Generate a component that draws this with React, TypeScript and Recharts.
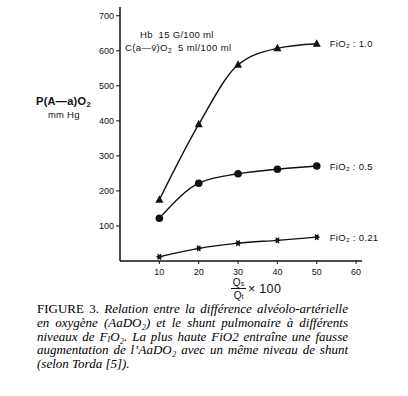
import React from 'react';
import { LineChart, Line, XAxis, YAxis } from 'recharts';

const shunt = [10, 20, 30, 40, 50];
const fio2_100 = [175, 390, 560, 607, 620];
const fio2_50 = [122, 222, 249, 262, 271];
const fio2_21 = [12, 36, 51, 59, 68];
const xTicks = [10, 20, 30, 40, 50, 60];
const yTicks = [100, 200, 300, 400, 500, 600, 700];
const seriesLabels = ['FiO₂ : 1.0', 'FiO₂ : 0.5', 'FiO₂ : 0.21'];

const data = shunt.map((s, i) => ({ s, a: fio2_100[i], b: fio2_50[i], c: fio2_21[i] }));

const INK = '#111';
const SANS = '"Liberation Sans", Arial, sans-serif';
const SERIF2 = '"Liberation Serif", "Times New Roman", serif';

const Tri = (p: any) => {
  const { cx, cy } = p;
  if (cx == null || cy == null) return <g />;
  return <polygon points={`${cx},${cy - 4.5} ${cx - 4},${cy + 3} ${cx + 4},${cy + 3}`} fill={INK} />;
};
const Dot = (p: any) => {
  const { cx, cy } = p;
  if (cx == null || cy == null) return <g />;
  return <circle cx={cx} cy={cy} r={3.8} fill={INK} />;
};
const Star = (p: any) => {
  const { cx, cy } = p;
  if (cx == null || cy == null) return <g />;
  return (
    <g stroke={INK} strokeWidth={1.2}>
      <line x1={cx - 3} y1={cy} x2={cx + 3} y2={cy} />
      <line x1={cx - 1.6} y1={cy - 2.8} x2={cx + 1.6} y2={cy + 2.8} />
      <line x1={cx + 1.6} y1={cy - 2.8} x2={cx - 1.6} y2={cy + 2.8} />
      <circle cx={cx} cy={cy} r={1.5} fill={INK} />
    </g>
  );
};

const endLabel = (text: string) => (p: any) => {
  if (p.index !== shunt.length - 1) return <g />;
  return (
    <text x={p.x + 13} y={p.y} dy={3.5} fontSize={9.5} letterSpacing={0.3} fontFamily={SANS} fill={INK}>
      {text}
    </text>
  );
};

const abs = (s: React.CSSProperties): React.CSSProperties => ({ position: 'absolute', whiteSpace: 'nowrap', ...s });

const capLine: React.CSSProperties = {
  height: 13.8,
  lineHeight: '13.8px',
  textAlign: 'justify',
  textAlignLast: 'justify',
  whiteSpace: 'nowrap',
};

export default function App() {
  return (
    <div style={{ position: 'fixed', left: 0, top: 0, width: 408, height: 396, background: '#fff', overflow: 'hidden' }}>
      <LineChart width={408} height={300} data={data} margin={{ top: 7, right: 46, bottom: 9, left: 60 }}>
        <XAxis
          dataKey="s"
          type="number"
          domain={[0, 61.5]}
          ticks={xTicks}
          height={30}
          tickSize={3}
          tickMargin={5}
          axisLine={{ stroke: INK, strokeWidth: 1.5 }}
          tickLine={{ stroke: INK, strokeWidth: 1 }}
          tick={{ fontSize: 9, fill: INK, fontFamily: SANS }}
        />
        <YAxis
          type="number"
          domain={[0, 725]}
          ticks={yTicks}
          width={60}
          tickSize={4}
          tickMargin={2}
          axisLine={{ stroke: INK, strokeWidth: 1.5 }}
          tickLine={{ stroke: INK, strokeWidth: 1 }}
          tick={{ fontSize: 9, fill: INK, fontFamily: SANS }}
        />
        <Line dataKey="a" type="monotone" stroke={INK} strokeWidth={1.4} dot={<Tri />} activeDot={false} isAnimationActive={false} label={endLabel(seriesLabels[0])} />
        <Line dataKey="b" type="monotone" stroke={INK} strokeWidth={1.4} dot={<Dot />} activeDot={false} isAnimationActive={false} label={endLabel(seriesLabels[1])} />
        <Line dataKey="c" type="monotone" stroke={INK} strokeWidth={1.4} dot={<Star />} activeDot={false} isAnimationActive={false} label={endLabel(seriesLabels[2])} />
      </LineChart>

      <div style={abs({ left: 140, top: 29, fontSize: 9.5, letterSpacing: 0.3, fontFamily: SANS, color: INK })}>Hb&nbsp;&nbsp;15 G/100 ml</div>
      <div style={abs({ left: 125, top: 42, fontSize: 9.5, letterSpacing: 0.4, fontFamily: SANS, color: INK })}>
        C(a—v̄)O<span style={{ fontSize: 6.5, position: 'relative', top: 2 }}>2</span>&nbsp;&nbsp;5 ml/100 ml
      </div>

      <div style={abs({ left: 36, top: 95, fontSize: 11, fontWeight: 'bold', letterSpacing: 0.3, fontFamily: SANS, color: INK })}>
        P(A—a)O<span style={{ fontSize: 7.5, position: 'relative', top: 2 }}>2</span>
      </div>
      <div style={abs({ left: 48, top: 109, fontSize: 9.5, letterSpacing: 0.2, fontFamily: SANS, color: INK })}>mm Hg</div>

      <div style={abs({ left: 231, top: 278, fontSize: 10, fontFamily: SANS, color: INK, textAlign: 'center', width: 15 })}>
        <div style={{ lineHeight: '9px', height: 9, borderBottom: `1.2px solid ${INK}`, paddingBottom: 1 }}>
          Q<span style={{ fontSize: 7 }}>s</span>
        </div>
        <div style={{ lineHeight: '9px', height: 9, paddingTop: 1.5 }}>
          Q<span style={{ fontSize: 7 }}>t</span>
        </div>
      </div>
      <div style={abs({ left: 248, top: 282, fontSize: 12.5, letterSpacing: 0.3, fontFamily: SANS, color: INK })}>× 100</div>

      <div style={{ position: 'absolute', left: 37, top: 302, width: 311, fontFamily: SERIF2, fontSize: 13, color: '#000' }}>
        <div style={capLine}>
          <span style={{ fontStyle: 'normal' }}>FIGURE 3.</span> <i>Relation entre la différence alvéolo-artérielle</i>
        </div>
        <div style={{ ...capLine, fontStyle: 'italic' }}>
          en oxygène (AaDO₂) et le shunt pulmonaire à différents
        </div>
        <div style={{ ...capLine, fontStyle: 'italic' }}>
          niveaux de F<span style={{ fontSize: 8, verticalAlign: 'baseline', position: 'relative', top: 1 }}>I</span>O₂. La plus haute FiO2 entraîne une fausse
        </div>
        <div style={{ ...capLine, fontStyle: 'italic' }}>
          augmentation de l’AaDO₂ avec un même niveau de shunt
        </div>
        <div style={{ ...capLine, fontStyle: 'italic', textAlignLast: 'left' }}>(selon Torda [5]).</div>
      </div>
    </div>
  );
}
